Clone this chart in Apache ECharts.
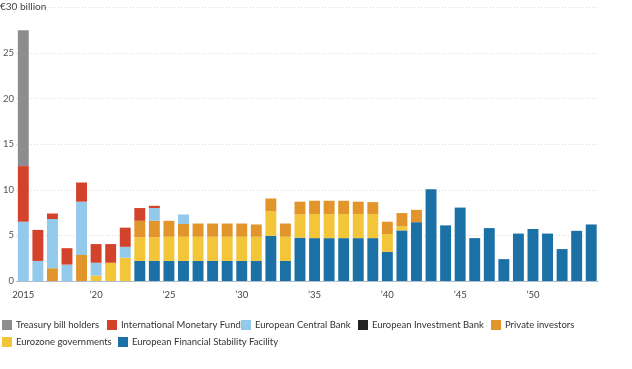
<!DOCTYPE html>
<html>
<head>
<meta charset="utf-8">
<script src="https://cdn.jsdelivr.net/npm/echarts@6/dist/echarts.min.js"></script>
<style>html,body{margin:0;padding:0;background:#fff}#c{width:632px;height:369px}</style>
</head>
<body>
<div id="c"></div>
<script>
var years = ['2015','2016','2017','2018','2019','2020','2021','2022','2023','2024',
  '2025','2026','2027','2028','2029','2030','2031','2032','2033','2034',
  '2035','2036','2037','2038','2039','2040','2041','2042','2043','2044',
  '2045','2046','2047','2048','2049','2050','2051','2052','2053','2054'];
var tickYears = ['2015','2020','2025','2030','2035','2040','2045','2050'];
var tickLabels = ['2015','\u201920','\u201925','\u201930','\u201935','\u201940','\u201945','\u201950'];
var yTickLabels = ['0','5','10','15','20','25','\u20ac30 billion'];

var efsf = [0,0,0,0,0,0,0,0,2.2,2.2,
  2.2,2.2,2.2,2.2,2.2,2.2,2.2,4.95,2.2,4.75,
  4.7,4.7,4.7,4.7,4.7,3.2,5.55,6.45,10.05,6.1,
  8.05,4.7,5.8,2.4,5.2,5.7,5.2,3.5,5.5,6.2];
var eurozone = [0,0,0,0,0,0.6,2.0,2.55,2.6,2.6,
  2.65,2.65,2.65,2.65,2.65,2.65,2.65,2.7,2.65,2.55,
  2.65,2.65,2.65,2.65,2.65,1.95,0.45,0,0,0,
  0,0,0,0,0,0,0,0,0,0];
var privateInv = [0,0,1.4,0,2.85,0,0,0,1.8,1.8,
  1.75,1.4,1.45,1.45,1.45,1.45,1.35,1.4,1.45,1.4,
  1.45,1.45,1.45,1.35,1.3,1.35,1.45,1.35,0,0,
  0,0,0,0,0,0,0,0,0,0];
var eib = [0,0,0,0,0,0,0,0,0,0,
  0,0,0,0,0,0,0,0,0,0,
  0,0,0,0,0,0,0,0,0,0,
  0,0,0,0,0,0,0,0,0,0];
var ecb = [6.5,2.2,5.4,1.8,5.85,1.4,0,1.2,0,1.4,
  0,1.05,0,0,0,0,0,0,0,0,
  0,0,0,0,0,0,0,0,0,0,
  0,0,0,0,0,0,0,0,0,0];
var imf = [6.1,3.4,0.6,1.8,2.1,2.05,2.05,2.1,1.4,0.25,
  0,0,0,0,0,0,0,0,0,0,
  0,0,0,0,0,0,0,0,0,0,
  0,0,0,0,0,0,0,0,0,0];
var treasury = [14.9,0,0,0,0,0,0,0,0,0,
  0,0,0,0,0,0,0,0,0,0,
  0,0,0,0,0,0,0,0,0,0,
  0,0,0,0,0,0,0,0,0,0];

var FONT = "Lato, 'Roboto', sans-serif";
var names = {
  treasury: 'Treasury bill holders',
  imf: 'International Monetary Fund',
  ecb: 'European Central Bank',
  eib: 'European Investment Bank',
  priv: 'Private investors',
  euro: 'Eurozone governments',
  efsf: 'European Financial Stability Facility'
};
var colors = {
  treasury: '#8c8d8f', imf: '#d3432b', ecb: '#93c9ea', eib: '#222222',
  priv: '#e2952a', euro: '#f3c538', efsf: '#1b71a6'
};

function bar(key, data) {
  return {
    type: 'bar', name: names[key], stack: 'all', data: data,
    barCategoryGap: '25%', itemStyle: { color: colors[key] },
    emphasis: { disabled: true }
  };
}
function leg(key, left, top) {
  return {
    data: [names[key]], left: left, top: top, icon: 'rect',
    itemWidth: 10, itemHeight: 10, itemGap: 0, padding: 0,
    selectedMode: false,
    textStyle: { fontFamily: FONT, fontSize: 9.5, color: '#333', padding: [0,0,0,-1] }
  };
}

var chart = echarts.init(document.getElementById('c'), null, { renderer: 'canvas' });
chart.setOption({
  animation: false,
  backgroundColor: '#fff',
  grid: { left: 15, right: 33.5, top: 7.4, bottom: 88, containLabel: false },
  title: {
    text: yTickLabels[6], left: 0, top: 2, padding: 0,
    textStyle: { fontFamily: FONT, fontSize: 10, fontWeight: 'normal', color: '#444' }
  },
  legend: [
    leg('treasury', 2, 320),
    leg('imf', 107, 320),
    leg('ecb', 241, 320),
    leg('eib', 358, 320),
    leg('priv', 491, 320),
    leg('euro', 2, 337),
    leg('efsf', 118, 337)
  ],
  xAxis: {
    type: 'category', data: years,
    axisLine: { lineStyle: { color: '#aebfcb', width: 1 } },
    axisTick: { alignWithLabel: true, interval: 0, length: 3, lineStyle: { color: '#aebfcb' } },
    axisLabel: {
      interval: 0, margin: 9, fontFamily: FONT, fontSize: 9.5, color: '#444',
      formatter: function (v) { var i = tickYears.indexOf(v); return i >= 0 ? tickLabels[i] : ''; }
    }
  },
  yAxis: {
    type: 'value', min: 0, max: 30, interval: 5,
    axisLine: { show: false }, axisTick: { show: false },
    splitLine: { lineStyle: { color: '#dcdcdc', type: [1, 2] } },
    axisLabel: {
      margin: 2, fontFamily: FONT, fontSize: 9.5, color: '#555',
      formatter: function (v) { var i = v / 5; return i < 6 ? yTickLabels[i] : ''; }
    }
  },
  series: [
    bar('efsf', efsf),
    bar('euro', eurozone),
    bar('priv', privateInv),
    bar('eib', eib),
    bar('ecb', ecb),
    bar('imf', imf),
    bar('treasury', treasury)
  ]
});
</script>
</body>
</html>
